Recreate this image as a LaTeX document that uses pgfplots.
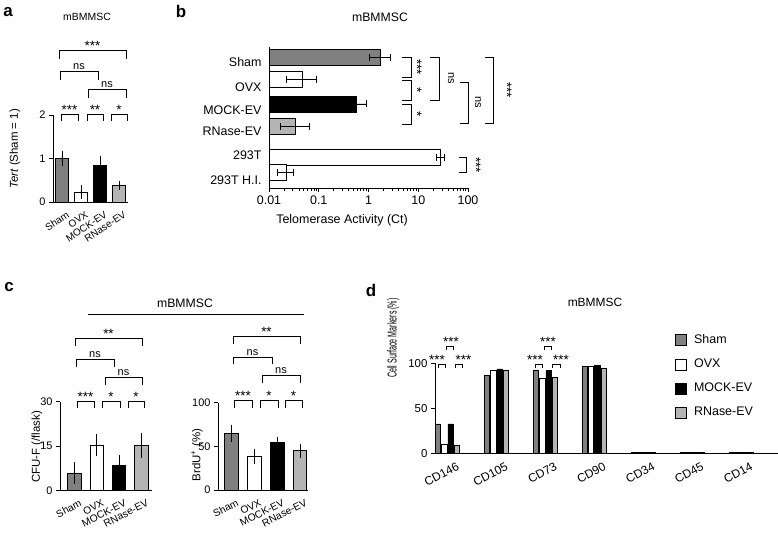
\documentclass[border=0pt]{standalone}
\usepackage{fontspec}
\setmainfont{Liberation Sans}
\usepackage{graphicx}
\usepackage{pgfplots}
\pgfplotsset{compat=1.18}
\definecolor{gSham}{HTML}{808080}
\definecolor{gRN}{HTML}{B4B4B4}
\newcommand{\fs}[1]{\fontsize{#1}{#1}\selectfont}
\pgfplotsset{
  base/.style={
    scale only axis, anchor=south west, clip=false,
    axis x line=bottom, axis y line=left,
    axis line style={-, line width=0.8bp, black},
    tick style={line width=0.8bp, black},
    tick align=outside, major tick length=4bp,
    /pgf/number format/assume math mode=true,
    xtick style={draw=none},
    error bars/error bar style={line width=0.8bp, black, solid},
    error bars/error mark options={line width=0.8bp, black, mark size=4.5bp},
  },
  grp/.style={
    base, ybar, bar shift=0pt,
    ymin=0, xtick={0,1,2,3},
    xticklabels={Sham,OVX,MOCK-EV,RNase-EV},
    yticklabel style={font=\fs{11}},
    ylabel style={font=\fs{11.5}, anchor=center},
    error bars/y dir=both, error bars/y explicit,
    every axis plot/.append style={draw=black, line width=0.8bp},
  },
}
% star bracket: x1 x2 top bottom labelx label
\newcommand{\hS}[6]{\draw (#1,#4)--(#1,#3)--(#2,#3)--(#2,#4);
  \node[anchor=base, inner sep=0pt, font=\fs{13.5}] at (#5,{#3+0.5}) {#6};}
% ns bracket
\newcommand{\hN}[5]{\draw (#1,#4)--(#1,#3)--(#2,#3)--(#2,#4);
  \node[anchor=base, inner sep=0pt, font=\fs{11}] at ({(#1+#2)/2},{#3-1.5}) {#5};}
% vertical bracket: x1 x2 y1 y2 lx ly label font
\newcommand{\vB}[8]{\draw (#1,#3)--(#2,#3)--(#2,#4)--(#1,#4);
  \node[rotate=-90, inner sep=0pt, font=#8] at (#5,#6) {#7};}
\begin{document}
\begin{tikzpicture}
\useasboundingbox (0bp,0bp) rectangle (778bp,533bp);

%%%%% Panel a
\begin{axis}[grp, at={(53bp,331bp)}, width=75bp, height=87bp,
  xmin=-0.47, xmax=3.47, ymax=2, ytick={0,1,2}, bar width=0.68,
  xticklabel style={font=\fs{10}, xshift=5bp, rotate=33, anchor=north east},
  ylabel={\textit{Tert} (Sham = 1)},
  ylabel style={at={(axis description cs:-0.507,0.61)}}]
\addplot[fill=gSham] coordinates {(0,1.0) +- (0,0.08)};
\addplot[fill=white] coordinates {(1,0.23) +- (0,0.05)};
\addplot[fill=black] coordinates {(2,0.84) +- (0,0.11)};
\addplot[fill=gRN] coordinates {(3,0.38) +- (0,0.01)};
\end{axis}

%%%%% Panel b
\begin{axis}[base, at={(269bp,345bp)}, width=199bp, height=141bp,
  xmode=log, log origin=infty, xmin=0.01, xmax=100, ymin=-188, ymax=-47,
  xtick={0.01,0.1,1,10,100}, xticklabels={0.01,0.1,1,10,100},
  xtick style={draw=black},
  ytick={-61.7,-87.3,-110,-131.7,-155,-180},
  yticklabels={Sham,OVX,MOCK-EV,RNase-EV,293T,293T H.I.},
  ytick style={draw=none},
  tick label style={font=\fs{12.5}},
  xbar, bar width=16, bar shift=0pt,
  every axis plot/.append style={draw=black, line width=0.8bp},
  error bars/x dir=both, error bars/x explicit,
  error bars/error mark options={line width=0.8bp, black, mark size=3.5bp, rotate=90},
  xlabel={Telomerase Activity (Ct)},
  xlabel style={at={(axis description cs:0.367,-0.227)}, anchor=center, font=\fs{12.5}}]
\addplot[fill=gSham] coordinates {(1.7,-57.5) += (1.0,0) -= (0.65,0)};
\addplot[fill=white] coordinates {(0.046,-79.5) += (0.044,0) -= (0.0235,0)};
\addplot[fill=black] coordinates {(0.58,-104) += (0.34,0) -= (0.2,0)};
\addplot[fill=gRN] coordinates {(0.034,-126.5) += (0.032,0) -= (0.0174,0)};
\addplot[fill=white] coordinates {(28,-157.5) += (5,0) -= (4.4,0)};
\addplot[fill=white] coordinates {(0.0225,-172.5) += (0.0085,0) -= (0.0075,0)};
\end{axis}

%%%%% Panel c1
\begin{axis}[grp, at={(60bp,42.5bp)}, width=92bp, height=89bp,
  xmin=-0.65, xmax=3.47, ymax=30, ytick={0,15,30}, bar width=0.6,
  xticklabel style={font=\fs{10.3}, xshift=6bp, rotate=27, anchor=north east},
  ylabel={CFU-F (/flask)},
  ylabel style={at={(axis description cs:-0.25,0.49)}}]
\addplot[fill=gSham] coordinates {(0,5.9) +- (0,2.1)};
\addplot[fill=white] coordinates {(1,15.3) +- (0,2.1)};
\addplot[fill=black] coordinates {(2,8.5) +- (0,2.1)};
\addplot[fill=gRN] coordinates {(3,15.1) +- (0,2.6)};
\end{axis}

%%%%% Panel c2
\begin{axis}[grp, at={(218bp,43bp)}, width=90bp, height=87.3bp,
  xmin=-0.59, xmax=3.35, ymax=100, ytick={0,50,100}, bar width=0.59,
  xticklabel style={font=\fs{10.3}, xshift=6bp, rotate=27, anchor=north east},
  ylabel={BrdU\textsuperscript{+} (\%)},
  ylabel style={at={(axis description cs:-0.233,0.4)}}]
\addplot[fill=gSham] coordinates {(0,65) +- (0,4.8)};
\addplot[fill=white] coordinates {(1,38.2) +- (0,3.8)};
\addplot[fill=black] coordinates {(2,54.2) +- (0,1)};
\addplot[fill=gRN] coordinates {(3,45) +- (0,2.9)};
\end{axis}

%%%%% Panel d
\begin{axis}[base, at={(435bp,79.7bp)}, width=343bp, height=90bp,
  xmin=-0.255, xmax=6.755, ymin=0, ymax=100, ytick={0,50,100},
  xtick={0,1,2,3,4,5,6},
  xticklabels={CD146,CD105,CD73,CD90,CD34,CD45,CD14},
  xticklabel style={font=\fs{12}, xshift=10bp, rotate=28, anchor=north east},
  yticklabel style={font=\fs{11.5}},
  ylabel={\scalebox{0.55}[1]{Cell Surface Markers (\%)}},
  ylabel style={at={(axis description cs:-0.122,1.28)}, anchor=center, font=\fs{13}},
  ybar, bar width=0.11,
  every axis plot/.append style={draw=black, line width=0.6bp},
  every axis plot post/.append style={legend image code/.code={\draw[##1, draw=black, line width=0.8bp] (0bp,-5.5bp) rectangle (11bp,5.5bp);}},
  legend style={at={(axis description cs:0.70,1.325)}, anchor=north west, draw=none, fill=none,
    font=\fs{12.5}, row sep=12.2bp, inner sep=0pt,
    nodes={inner sep=0pt, text height=9bp, text depth=3bp},
    /tikz/every odd column/.append style={column sep=7bp}},
  legend cell align=left]
\addplot[fill=gSham, bar shift=-0.195] coordinates {(0,32.6) (1,86.7) (2,92.6) (3,96.3) (4,1.3) (5,1.3) (6,1.3)};
\addplot[fill=white, bar shift=-0.065] coordinates {(0,10.4) (1,92.6) (2,83.7) (3,96.3) (4,1.3) (5,1.3) (6,1.3)};
\addplot[fill=black, bar shift=0.065] coordinates {(0,32.6) (1,93.7) (2,91.9) (3,98) (4,1.3) (5,1.3) (6,1.3)};
\addplot[fill=gRN, bar shift=0.195] coordinates {(0,8.9) (1,91.9) (2,84.4) (3,94.8) (4,1.3) (5,1.3) (6,1.3)};
\legend{Sham,OVX,MOCK-EV,RNase-EV}
\end{axis}

%%%%% Annotations (pixel coordinates, y downward)
\begin{scope}[x=1bp, y=-1bp, shift={(0bp,533bp)}, line width=0.9bp]
\node[font=\fs{17}\bfseries] at (8,12) {a};
\node[font=\fs{17}\bfseries] at (181,11) {b};
\node[font=\fs{17}\bfseries] at (9,287) {c};
\node[font=\fs{17}\bfseries] at (371,290) {d};
\node[font=\fs{10.5}] at (87,17) {mBMMSC};
\node[font=\fs{12.3}] at (380,17) {mBMMSC};
\node[font=\fs{12.3}] at (185,303) {mBMMSC};
\node[font=\fs{12}] at (595,302) {mBMMSC};
\draw (88,314)--(304,314);
% panel a
\hS{61}{78}{114}{121.5}{69.5}{***}
\hS{87}{103}{114}{121.5}{95}{**}
\hS{111}{127}{114}{121.5}{119}{*}
\hN{60}{98}{71}{80}{ns}
\hN{88}{126}{89}{98}{ns}
\hS{59}{126}{50}{59}{92.5}{***}
% panel b
\vB{402}{411}{57}{77}{417}{67}{***}{\fs{13.5}}
\vB{402}{411}{80}{100}{417}{90}{*}{\fs{13.5}}
\vB{402}{411}{104}{124}{417}{114}{*}{\fs{13.5}}
\vB{430}{439}{57}{100}{451}{78}{ns}{\fs{11}}
\vB{460}{468}{82}{123}{478}{102}{ns}{\fs{11}}
\vB{485}{493}{57}{123}{507}{90}{***}{\fs{13.5}}
\vB{459}{466}{157}{172}{476}{165}{***}{\fs{13.5}}
% panel c1
\hS{77}{94}{401}{408.5}{85.5}{***}
\hS{102.5}{120}{401}{408.5}{111}{*}
\hS{128}{144}{401}{408.5}{136}{*}
\hN{76}{114}{359.5}{367}{ns}
\hN{105}{142}{377.5}{385}{ns}
\hS{75}{142}{338.5}{346}{108.5}{**}
% panel c2
\hS{234}{252}{400}{408}{243}{***}
\hS{260}{278}{400}{408}{269}{*}
\hS{285}{302}{400}{408}{293.5}{*}
\hN{233}{272}{357}{364.5}{ns}
\hN{262}{300}{375.5}{383.5}{ns}
\hS{233}{300}{336}{344.5}{266.5}{**}
% panel d
\hS{438}{445}{364}{368}{437}{***}
\hS{446.5}{453.5}{346}{350}{451}{***}
\hS{455}{462}{364}{368}{463.5}{***}
\hS{535}{542}{364}{368}{535}{***}
\hS{544}{551.5}{346}{350}{548}{***}
\hS{552}{560}{364}{368}{561}{***}
\end{scope}
\end{tikzpicture}
\end{document}
